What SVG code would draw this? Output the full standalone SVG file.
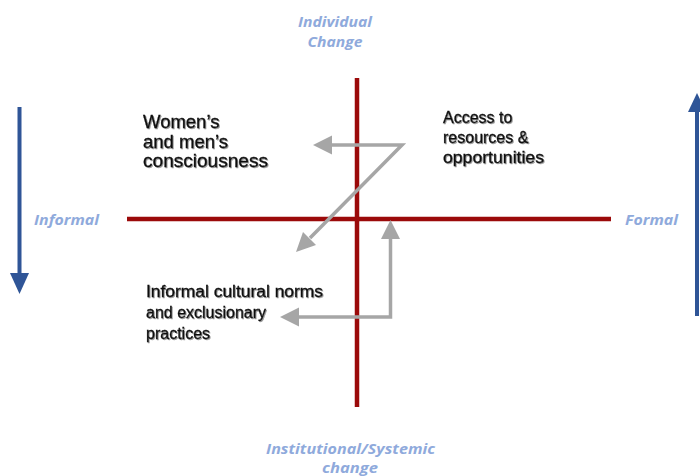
<svg xmlns="http://www.w3.org/2000/svg" width="700" height="476" viewBox="0 0 700 476">
  <defs>
    <style>
      .axis { stroke: #9b0a0a; stroke-width: 4.5; fill: none; }
      .dir { stroke: #2f5597; stroke-width: 4; fill: none; }
      .dirhead { fill: #2f5597; }
      .flow { stroke: #a6a6a6; stroke-width: 3.5; fill: none; }
      .flowhead { fill: #a6a6a6; }
      .pole { font-family: "Open Sans", "Liberation Sans", sans-serif; font-weight: bold; font-style: italic; font-size: 15px; fill: #8faadc; }
      .lbl { font-family: "Liberation Sans", Arial, sans-serif; fill: #111; stroke: #111; stroke-width: 0.3; filter: url(#shadow); }
    </style>
    <filter id="shadow" x="-10%" y="-20%" width="130%" height="150%">
      <feDropShadow dx="1" dy="1" stdDeviation="0.6" flood-color="#000" flood-opacity="0.4"/>
    </filter>
  </defs>

  <!-- quadrant axes -->
  <g id="axes">
    <line class="axis" x1="357" y1="78" x2="357" y2="407"/>
    <line class="axis" x1="127" y1="219" x2="611" y2="219"/>
  </g>

  <!-- informal/formal direction arrows -->
  <g id="direction-arrows">
    <line class="dir" x1="19.5" y1="107" x2="19.5" y2="276"/>
    <polygon class="dirhead" points="10,273 29,273 19.5,294"/>
    <line class="dir" x1="697" y1="110" x2="697" y2="316"/>
    <polygon class="dirhead" points="688,112 706,112 697,93"/>
  </g>

  <!-- pole labels -->
  <g id="pole-labels">
    <text class="pole" x="335" y="27" text-anchor="middle" textLength="74" lengthAdjust="spacingAndGlyphs">Individual</text>
    <text class="pole" x="335" y="47" text-anchor="middle" textLength="55" lengthAdjust="spacingAndGlyphs">Change</text>
    <text class="pole" x="34" y="225" textLength="65" lengthAdjust="spacingAndGlyphs">Informal</text>
    <text class="pole" x="625" y="225" textLength="53" lengthAdjust="spacingAndGlyphs">Formal</text>
    <text class="pole" x="266" y="454" textLength="169" lengthAdjust="spacingAndGlyphs">Institutional/Systemic</text>
    <text class="pole" x="350" y="473" text-anchor="middle" textLength="56" lengthAdjust="spacingAndGlyphs">change</text>
  </g>

  <!-- connectors between quadrants -->
  <g id="connectors">
    <polyline class="flow" points="331,145 402,145 310,238"/>
    <polygon class="flowhead" points="313,145 332,135.5 332,154.5"/>
    <polygon class="flowhead" points="296,252 303,232 316,245"/>
    <polyline class="flow" points="299,317 390.5,317 390.5,237"/>
    <polygon class="flowhead" points="280,317 299,307.5 299,326.5"/>
    <polygon class="flowhead" points="390.5,220 381,239 400,239"/>
  </g>

  <g id="node-consciousness">
    <text class="lbl" font-size="18.5">
      <tspan x="143" y="128">Women’s</tspan>
      <tspan x="143" y="148">and men’s</tspan>
      <tspan x="143" y="167" textLength="125" lengthAdjust="spacingAndGlyphs">consciousness</tspan>
    </text>
  </g>

  <g id="node-resources">
    <text class="lbl" font-size="16">
      <tspan x="443" y="123">Access to</tspan>
      <tspan x="443" y="143">resources  &amp;</tspan>
      <tspan x="443" y="163" textLength="101" lengthAdjust="spacingAndGlyphs">opportunities</tspan>
    </text>
  </g>

  <g id="node-norms">
    <text class="lbl" font-size="16">
      <tspan x="146" y="297" textLength="177" lengthAdjust="spacingAndGlyphs">Informal cultural  norms</tspan>
      <tspan x="146" y="318">and exclusionary</tspan>
      <tspan x="146" y="339">practices</tspan>
    </text>
  </g>
</svg>
